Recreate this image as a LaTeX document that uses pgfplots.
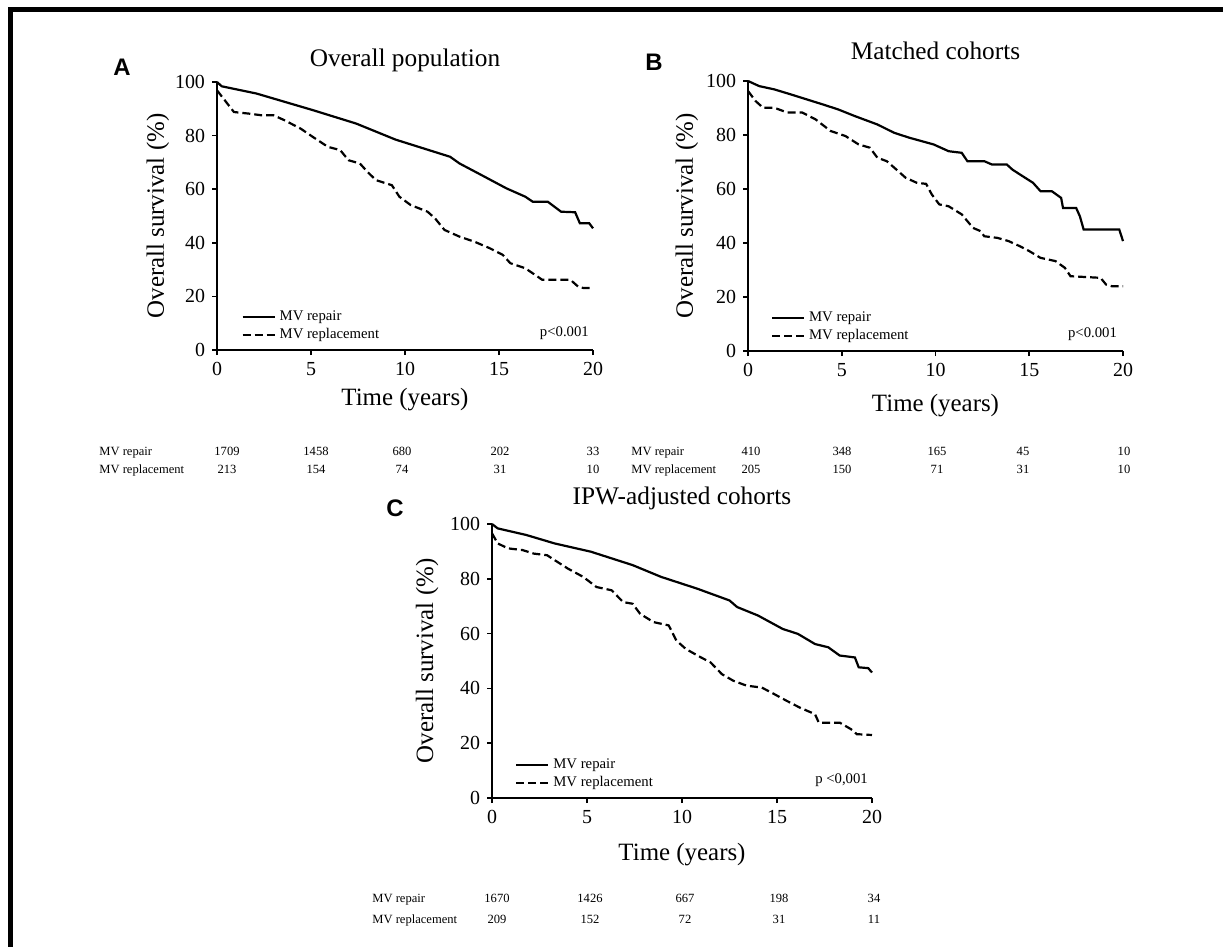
\documentclass[border=0pt]{standalone}
\usepackage{pgfplots}
\pgfplotsset{compat=1.18}
\usepackage{fontspec}
\setmainfont{Liberation Serif}
\newfontfamily\panelfont{Liberation Sans}

\tikzset{pval/.style={font=\fontsize{7.4}{8.5}\selectfont, anchor=east, inner sep=0pt}}

\pgfplotsset{
  km/.style={
    scale only axis, clip=false,
    xmin=0, xmax=20, ymin=0, ymax=100,
    axis x line*=bottom, axis y line*=left,
    axis line style={-, line width=1bp},
    xtick={0,5,...,20}, ytick={0,20,...,100},
    tick align=outside, major tick length=2.5bp,
    tick style={line width=0.8bp, black},
    tick label style={font=\fontsize{10}{12}\selectfont},
    /pgf/number format/assume math mode=true,
    title style={font=\fontsize{12.7}{15}\selectfont, at={(0.5,1)}, anchor=center},
    xlabel={Time (years)},
    ylabel={Overall survival (\%)},
    legend style={draw=none, fill=none, font=\fontsize{7.4}{8.5}\selectfont,
      inner sep=0pt, row sep=-1.5bp, cells={anchor=west}, anchor=south west},
    legend image code/.code={\draw[#1] (0bp,0bp) -- (16bp,0bp);},
  },
  xl/.style={every axis x label/.style={at={(axis description cs:0.5,0)}, anchor=center,
      yshift=#1, font=\fontsize{12.5}{15}\selectfont}},
  yl/.style={every axis y label/.style={at={(axis description cs:#1,0.5)}, rotate=90,
      anchor=center, font=\fontsize{12.5}{15}\selectfont}},
  rep/.style={black, line width=1.1bp},
  repl/.style={black, line width=1.1bp, dash pattern=on 4bp off 2bp},
}

\begin{document}
\begin{tikzpicture}
\path[use as bounding box] (0,0) rectangle (611.5bp,-473.5bp);
\draw[line width=2.5bp] (5.25bp,-473.5bp) -- (5.25bp,-4.75bp) -- (611.5bp,-4.75bp);

% A: overall population
\begin{axis}[km, at={(108.5bp,-175bp)}, anchor=south west, width=188bp, height=134bp,
  title={Overall population}, title style={yshift=5bp},
  xl=-25bp, yl=-0.157,
  legend style={at={(axis description cs:0.064,0.015)}}]
\addplot[rep] coordinates {(0,100)(0.25,98.4)(2.1,95.7)(5.1,89.5)(7.4,84.5)(9.5,78.5)
  (12.4,72.1)(12.9,69.6)(13.9,65.9)(15.4,60.3)(16.4,57.2)(16.8,55.3)(17.6,55.3)
  (18.3,51.6)(19.05,51.4)(19.3,47.3)(19.8,47.3)(20,45.4)};
\addlegendentry{MV repair}
\addplot[repl] coordinates {(0,96.9)(0.9,88.8)(1.7,88.2)(2.35,87.6)(3,87.6)(3.6,85.7)
  (4.45,82.6)(5.1,79.5)(5.9,75.8)(6.55,74.6)(7,70.8)(7.6,69.6)(8,66.5)(8.45,63.4)
  (9.3,61.5)(9.7,57.2)(10.3,54.1)(11.2,51.6)(11.6,49.1)(12.1,44.8)(12.9,42.3)
  (13.7,40.4)(14.5,38)(15.2,35.5)(15.6,32.4)(16.4,30.5)(17.3,26.2)(18.8,26.2)
  (19.2,23.7)(19.5,23.1)(20,23.1)};
\addlegendentry{MV replacement}
\node[pval] at (axis description cs:0.99,0.063) {p<0.001};
\end{axis}

% B: matched cohorts
\begin{axis}[km, at={(374bp,-175.5bp)}, anchor=south west, width=187.5bp, height=135bp,
  title={Matched cohorts}, title style={yshift=9bp},
  xl=-27.5bp, yl=-0.163,
  legend style={at={(axis description cs:0.06,0.015)}}]
\addplot[rep] coordinates {(0,100)(0.6,98.1)(1.4,96.9)(2.3,95)(4,91.3)(4.8,89.5)(5.7,87)
  (6.9,83.9)(7.8,80.8)(8.6,79)(9.9,76.5)(10.7,74)(11.4,73.4)(11.7,70.3)(12.6,70.3)
  (13,69.1)(13.8,69.1)(14.1,67.2)(14.5,65.4)(15.2,62.3)(15.6,59.2)(16.2,59.2)
  (16.7,56.7)(16.8,53)(17.5,53)(17.7,49.9)(17.9,45)(19.8,45)(20,40.7)};
\addlegendentry{MV repair}
\addplot[repl] coordinates {(0,96.3)(0.4,92.6)(0.8,90.1)(1.4,90.1)(2.1,88.3)(2.9,88.3)
  (3.6,85.8)(4.4,81.5)(5.2,79.6)(5.9,76.5)(6.5,75.3)(6.9,71.6)(7.4,70.3)(7.8,67.9)
  (8.4,64.2)(9,62.3)(9.5,61.9)(9.8,58)(10.2,54.3)(10.7,53.6)(11.4,50.6)(12,45.6)
  (12.4,44.4)(12.6,42.5)(13.3,41.9)(13.9,40.7)(14.5,38.8)(15,37)(15.6,34.5)
  (16.4,33.3)(16.9,30.8)(17.2,27.7)(18.8,27.1)(19.1,24.6)(19.4,24)(20,24)};
\addlegendentry{MV replacement}
\node[pval] at (axis description cs:0.985,0.063) {p<0.001};
\end{axis}

% C: IPW-adjusted cohorts
\begin{axis}[km, at={(246bp,-399bp)}, anchor=south west, width=190bp, height=137bp,
  title={IPW-adjusted cohorts}, title style={yshift=7bp},
  xl=-28.5bp, yl=-0.171,
  legend style={at={(axis description cs:0.06,0.015)}}]
\addplot[rep] coordinates {(0,100)(0.3,98.4)(1.8,96)(3.3,92.9)(5.2,89.9)(7.4,85)(8.9,80.7)
  (10.8,76.4)(12.5,72.1)(12.9,69.7)(14,66.6)(15.3,61.7)(16.1,59.9)(17,56.2)(17.7,55)
  (18.3,52)(19.1,51.3)(19.3,47.7)(19.8,47.4)(20,45.8)};
\addlegendentry{MV repair}
\addplot[repl] coordinates {(0,96.6)(0.3,92.9)(0.85,91.1)(1.6,90.5)(2.2,89.2)(2.9,88.6)
  (3.3,86.8)(4,83.7)(4.8,80.7)(5.5,77)(6.3,75.8)(6.9,71.5)(7.4,70.9)(7.8,67.2)
  (8.5,64.2)(9.3,63)(9.7,57.5)(10.2,54.4)(11,51.3)(11.5,49.5)(12.1,45.2)(12.7,42.8)
  (13.4,41)(14.2,40.3)(14.7,38.5)(15.5,35.5)(16.2,33)(17,30.6)(17.2,27.5)(18.3,27.5)
  (18.9,25.1)(19.2,23.3)(20,23)};
\addlegendentry{MV replacement}
\node[pval] at (axis description cs:0.99,0.065) {p <0,001};
\end{axis}

% panel letters
\node[font=\panelfont\bfseries\fontsize{12}{14}\selectfont] at (61bp,-33.5bp) {A};
\node[font=\panelfont\bfseries\fontsize{12}{14}\selectfont] at (327bp,-31bp) {B};
\node[font=\panelfont\bfseries\fontsize{12}{14}\selectfont] at (197.5bp,-254bp) {C};

% numbers at risk (baselines)
\begin{scope}[every node/.style={font=\fontsize{6.3}{7.5}\selectfont, inner sep=0pt, anchor=base}]
\node[anchor=base west] at (49.5bp,-227.6bp) {MV repair};
\node[anchor=base west] at (49.5bp,-236.6bp) {MV replacement};
\node at (113.5bp,-227.6bp) {1709}; \node at (158bp,-227.6bp) {1458};
\node at (201bp,-227.6bp) {680};   \node at (250bp,-227.6bp) {202};
\node at (296.5bp,-227.6bp) {33};
\node at (113.5bp,-236.6bp) {213};  \node at (158bp,-236.6bp) {154};
\node at (201bp,-236.6bp) {74};    \node at (250bp,-236.6bp) {31};
\node at (296.5bp,-236.6bp) {10};

\node[anchor=base west] at (315.5bp,-227.6bp) {MV repair};
\node[anchor=base west] at (315.5bp,-236.6bp) {MV replacement};
\node at (375.5bp,-227.6bp) {410}; \node at (421bp,-227.6bp) {348};
\node at (468.5bp,-227.6bp) {165}; \node at (511.5bp,-227.6bp) {45};
\node at (562bp,-227.6bp) {10};
\node at (375.5bp,-236.6bp) {205}; \node at (421bp,-236.6bp) {150};
\node at (468.5bp,-236.6bp) {71};  \node at (511.5bp,-236.6bp) {31};
\node at (562bp,-236.6bp) {10};

\node[anchor=base west] at (186bp,-451.1bp) {MV repair};
\node[anchor=base west] at (186bp,-461.6bp) {MV replacement};
\node at (248.5bp,-451.1bp) {1670}; \node at (295bp,-451.1bp) {1426};
\node at (342.5bp,-451.1bp) {667};  \node at (389.5bp,-451.1bp) {198};
\node at (437bp,-451.1bp) {34};
\node at (248.5bp,-461.6bp) {209}; \node at (295bp,-461.6bp) {152};
\node at (342.5bp,-461.6bp) {72};  \node at (389.5bp,-461.6bp) {31};
\node at (437bp,-461.6bp) {11};
\end{scope}
\end{tikzpicture}
\end{document}
